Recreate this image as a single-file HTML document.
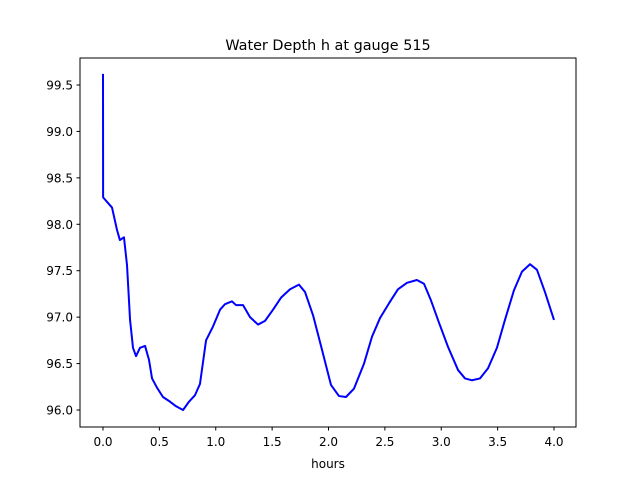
<!DOCTYPE html>
<html><head><meta charset="utf-8"><style>
html,body{margin:0;padding:0;background:#fff}
svg text{font-family:"DejaVu Sans","Liberation Sans",sans-serif;fill:#000}
</style></head><body>
<svg id="chart" width="640" height="480" xmlns="http://www.w3.org/2000/svg">
<rect width="640" height="480" fill="#fff"/>
<text x="328" y="50" font-size="14.4" text-anchor="middle">Water Depth h at gauge 515</text>
<g id="ticks"></g>
<polyline id="line" fill="none" stroke="#0000ff" stroke-width="2" stroke-linejoin="round"/>
<rect x="80" y="58" width="496" height="369" fill="none" stroke="#000" stroke-width="1"/>
<text x="328" y="468" font-size="12" text-anchor="middle">hours</text>
</svg>
<script>
const hours=[0,0.001,0.044,0.08,0.124,0.15,0.186,0.213,0.24,0.266,0.293,0.328,0.373,0.408,0.435,0.479,0.532,0.594,0.648,0.71,0.763,0.816,0.86,0.914,0.976,1.038,1.082,1.144,1.18,1.242,1.304,1.375,1.437,1.508,1.579,1.659,1.738,1.792,1.863,1.942,2.022,2.093,2.155,2.226,2.315,2.386,2.457,2.537,2.616,2.696,2.784,2.847,2.909,2.98,3.06,3.149,3.211,3.273,3.344,3.415,3.494,3.565,3.645,3.716,3.787,3.849,3.92,4.0];
const depth=[99.62,98.29,98.23,98.18,97.94,97.83,97.86,97.56,96.97,96.67,96.58,96.67,96.69,96.54,96.34,96.24,96.14,96.09,96.04,96.0,96.09,96.16,96.28,96.75,96.9,97.08,97.14,97.17,97.13,97.13,97.0,96.92,96.96,97.08,97.21,97.3,97.35,97.27,97.02,96.65,96.27,96.15,96.14,96.23,96.5,96.79,96.99,97.15,97.3,97.37,97.4,97.36,97.18,96.94,96.68,96.43,96.34,96.32,96.34,96.45,96.67,96.97,97.29,97.49,97.57,97.51,97.27,96.97];
const xTicks=[0,0.5,1,1.5,2,2.5,3,3.5,4];
const xTickLabels=["0.0","0.5","1.0","1.5","2.0","2.5","3.0","3.5","4.0"];
const yTicks=[96,96.5,97,97.5,98,98.5,99,99.5];
const yTickLabels=["96.0","96.5","97.0","97.5","98.0","98.5","99.0","99.5"];
const sx=t=>103+t*112.75;
const sy=v=>410-(v-96)*92.86;
const NS="http://www.w3.org/2000/svg";
const g=document.getElementById('ticks');
xTicks.forEach((t,i)=>{
  const l=document.createElementNS(NS,'line');
  l.setAttribute('x1',sx(t));l.setAttribute('x2',sx(t));l.setAttribute('y1',427);l.setAttribute('y2',430.5);l.setAttribute('stroke','#000');
  
  
  g.appendChild(l);
  const tx=document.createElementNS(NS,'text');
  tx.setAttribute('x',sx(t));tx.setAttribute('y',446);tx.setAttribute('font-size','12');tx.setAttribute('text-anchor','middle');
  tx.textContent=xTickLabels[i];
  
  
  g.appendChild(tx);
});
yTicks.forEach((v,i)=>{
  const l=document.createElementNS(NS,'line');
  l.setAttribute('x1',76.5);l.setAttribute('x2',80);l.setAttribute('y1',sy(v));l.setAttribute('y2',sy(v));l.setAttribute('stroke','#000');
  
  
  g.appendChild(l);
  const tx=document.createElementNS(NS,'text');
  tx.setAttribute('x',73);tx.setAttribute('y',sy(v)+4.5);tx.setAttribute('font-size','12');tx.setAttribute('text-anchor','end');
  tx.textContent=yTickLabels[i];
  
  
  g.appendChild(tx);
});
document.getElementById('line').setAttribute('points',hours.map((t,i)=>sx(t)+','+sy(depth[i])).join(' '));
</script>
</body></html>
